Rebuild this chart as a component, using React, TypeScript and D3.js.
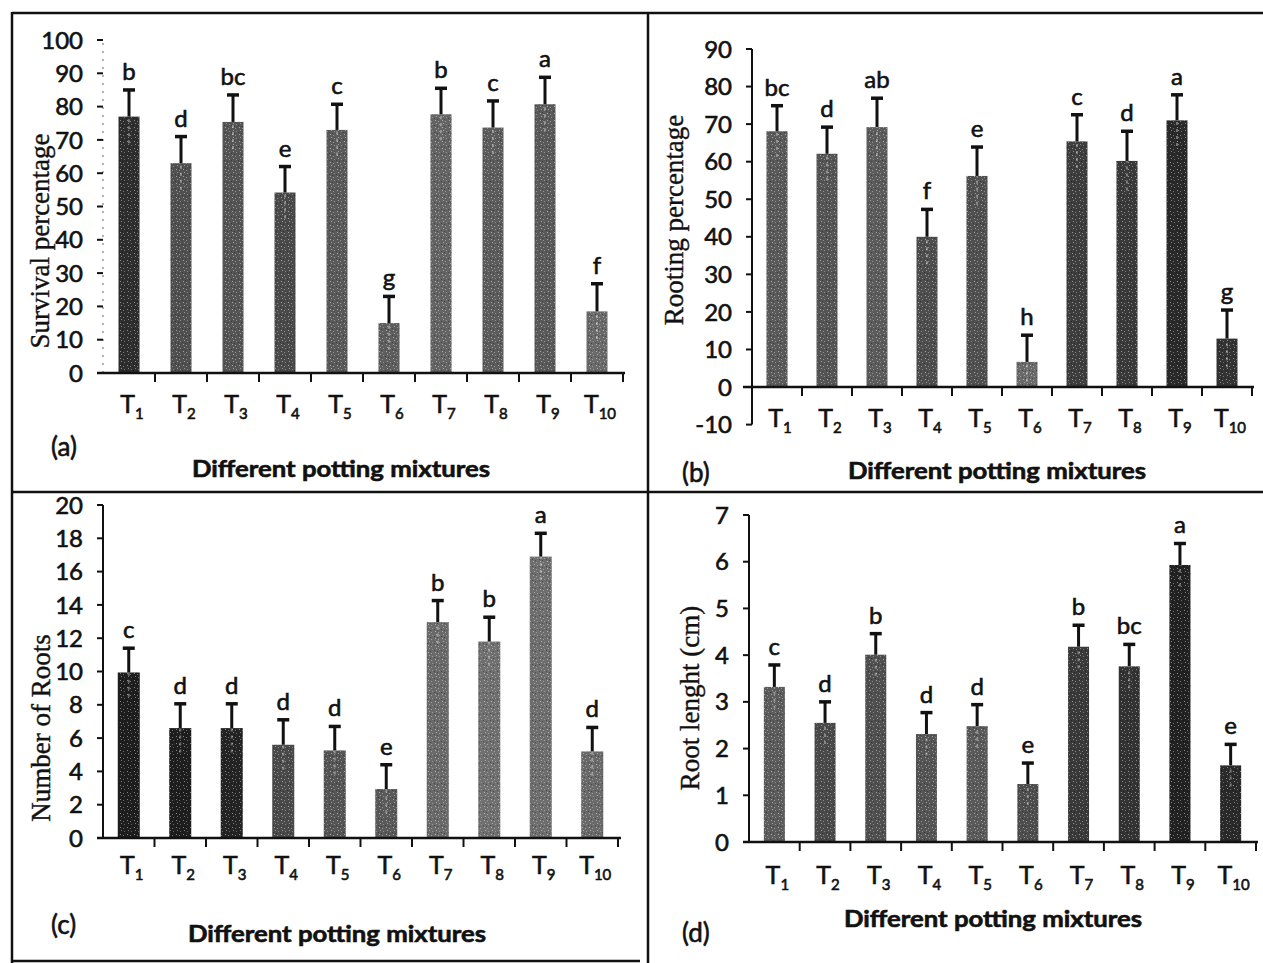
import React from 'react';
import * as d3 from 'd3';

const treatments = ['1', '2', '3', '4', '5', '6', '7', '8', '9', '10'];

const survivalMean = [77, 63, 75.4, 54.2, 73, 15, 77.7, 73.7, 80.7, 18.5];
const survivalErr = [8, 8, 8.1, 7.8, 7.7, 8, 7.8, 8, 8.1, 8.3];
const survivalLetters = ['b', 'd', 'bc', 'e', 'c', 'g', 'b', 'c', 'a', 'f'];

const rootingMean = [68.1, 62.1, 69.2, 40.0, 56.2, 6.7, 65.4, 60.2, 71.0, 12.9];
const rootingErr = [6.8, 7.1, 7.7, 7.3, 7.7, 7.1, 7.1, 7.9, 6.8, 7.6];
const rootingLetters = ['bc', 'd', 'ab', 'f', 'e', 'h', 'c', 'd', 'a', 'g'];

const rootsMean = [9.94, 6.6, 6.6, 5.6, 5.26, 2.94, 12.96, 11.8, 16.9, 5.2];
const rootsErr = [1.46, 1.46, 1.46, 1.5, 1.44, 1.46, 1.3, 1.46, 1.4, 1.44];
const rootsLetters = ['c', 'd', 'd', 'd', 'd', 'e', 'b', 'b', 'a', 'd'];

const lengthMean = [3.32, 2.55, 4.01, 2.31, 2.48, 1.24, 4.18, 3.76, 5.93, 1.64];
const lengthErr = [0.47, 0.45, 0.45, 0.46, 0.46, 0.45, 0.46, 0.47, 0.46, 0.45];
const lengthLetters = ['c', 'd', 'b', 'd', 'd', 'e', 'b', 'bc', 'a', 'e'];

const survivalTicks = [0, 10, 20, 30, 40, 50, 60, 70, 80, 90, 100];
const rootingTicks = [-10, 0, 10, 20, 30, 40, 50, 60, 70, 80, 90];
const rootsTicks = [0, 2, 4, 6, 8, 10, 12, 14, 16, 18, 20];
const lengthTicks = [0, 1, 2, 3, 4, 5, 6, 7];

const xTitle = 'Different potting mixtures';

const SANS = 'Lato, "Open Sans", sans-serif';
const SERIF = '"Liberation Serif", "Times New Roman", serif';

type PanelCfg = {
  id: string;
  label: string;
  mean: number[];
  err: number[];
  letters: string[];
  ticks: number[];
  yTitle: string;
  xRange: [number, number];
  yDomain: [number, number];
  yRange: [number, number];
  axisLineX: [number, number];
  barW: number;
  tLabelY: number;
  titleX: number;
  titleY: number;
  yTitleX: number;
  yTitleY: number;
  labelX: number;
  labelY: number;
  yAxisFaint: boolean;
  shades: string[];
};

const panels: PanelCfg[] = [
  {
    id: 'a', label: '(a)', mean: survivalMean, err: survivalErr, letters: survivalLetters,
    ticks: survivalTicks, yTitle: 'Survival percentage',
    xRange: [103, 623], yDomain: [0, 100], yRange: [373, 40], axisLineX: [97, 625],
    barW: 21, tLabelY: 413, titleX: 341, titleY: 477, yTitleX: 40, yTitleY: 241,
    labelX: 51, labelY: 456, yAxisFaint: true,
    shades: ['#2e2e2e', '#505050', '#555', '#4a4a4a', '#5a5a5a', '#5e5e5e', '#646464', '#5c5c5c', '#5a5a5a', '#6a6a6a'],
  },
  {
    id: 'b', label: '(b)', mean: rootingMean, err: rootingErr, letters: rootingLetters,
    ticks: rootingTicks, yTitle: 'Rooting percentage',
    xRange: [752, 1252], yDomain: [-10, 90], yRange: [424.6, 49], axisLineX: [743, 1254],
    barW: 21, tLabelY: 427, titleX: 997, titleY: 479, yTitleX: 674, yTitleY: 220,
    labelX: 682, labelY: 482, yAxisFaint: false,
    shades: ['#5a5a5a', '#555', '#5c5c5c', '#4e4e4e', '#505050', '#6a6a6a', '#3e3e3e', '#3a3a3a', '#2a2a2a', '#333'],
  },
  {
    id: 'c', label: '(c)', mean: rootsMean, err: rootsErr, letters: rootsLetters,
    ticks: rootsTicks, yTitle: 'Number of Roots',
    xRange: [103, 618], yDomain: [0, 20], yRange: [838, 505], axisLineX: [97, 621],
    barW: 22, tLabelY: 874, titleX: 337, titleY: 942, yTitleX: 41, yTitleY: 728,
    labelX: 51, labelY: 934, yAxisFaint: false,
    shades: ['#1e1e1e', '#1e1e1e', '#242424', '#4a4a4a', '#555', '#5a5a5a', '#6a6a6a', '#707070', '#6e6e6e', '#6a6a6a'],
  },
  {
    id: 'd', label: '(d)', mean: lengthMean, err: lengthErr, letters: lengthLetters,
    ticks: lengthTicks, yTitle: 'Root lenght (cm)',
    xRange: [749, 1256], yDomain: [0, 7], yRange: [842, 515], axisLineX: [743, 1258],
    barW: 21, tLabelY: 884, titleX: 993, titleY: 927, yTitleX: 690, yTitleY: 698,
    labelX: 682, labelY: 942, yAxisFaint: false,
    shades: ['#5c5c5c', '#4a4a4a', '#505050', '#555', '#5a5a5a', '#4e4e4e', '#3a3a3a', '#333', '#222', '#2a2a2a'],
  },
];

const heavy = { stroke: '#111', strokeWidth: 0.6, paintOrder: 'stroke' } as const;

function Panel({ p }: { p: PanelCfg }) {
  const x = d3.scaleBand<string>().domain(treatments).range(p.xRange).paddingInner(0).paddingOuter(0);
  const y = d3.scaleLinear().domain(p.yDomain).range(p.yRange);
  const y0 = y(0);
  const axisX = p.xRange[0];
  const bw = x.bandwidth();
  const boundaries = treatments.map((t) => (x(t) as number) + bw);
  const capW = 12;

  return (
    <g>
      {treatments.map((t, i) => {
        const cx = (x(t) as number) + bw / 2;
        const top = y(p.mean[i]);
        return (
          <g key={t}>
            <rect x={cx - p.barW / 2} y={top} width={p.barW} height={y0 - top} fill={p.shades[i]} />
            <rect x={cx - p.barW / 2} y={top} width={p.barW} height={y0 - top} fill="url(#speckle)" />
          </g>
        );
      })}
      {treatments.map((t, i) => {
        const cx = (x(t) as number) + bw / 2;
        const top = y(p.mean[i]);
        const et = y(p.mean[i] + p.err[i]);
        const eb = y(p.mean[i] - p.err[i]);
        return (
          <g key={'e' + t}>
            <line x1={cx} x2={cx} y1={eb} y2={top} stroke="#fff" strokeOpacity={0.35} strokeWidth={2} strokeDasharray="3 4" />
            <line x1={cx} x2={cx} y1={top} y2={et} stroke="#111" strokeWidth={3} />
            <line x1={cx - capW / 2} x2={cx + capW / 2} y1={et} y2={et} stroke="#111" strokeWidth={3.5} />
            <text x={cx} y={et - 10} textAnchor="middle" fontFamily={SANS} fontSize={24} fill="#111" {...heavy}>
              {p.letters[i]}
            </text>
          </g>
        );
      })}
      <line
        x1={axisX} x2={axisX} y1={y(p.yDomain[0])} y2={y(p.yDomain[1])}
        stroke={p.yAxisFaint ? '#999' : '#111'}
        strokeWidth={p.yAxisFaint ? 1.5 : 2}
        strokeDasharray={p.yAxisFaint ? '2 6' : undefined}
      />
      {p.ticks.map((v) => (
        <g key={'yt' + v}>
          <line x1={axisX - 6} x2={axisX} y1={y(v)} y2={y(v)} stroke="#111" strokeWidth={2} />
          <text x={axisX - 20} y={y(v)} dy="0.36em" textAnchor="end" fontFamily={SANS} fontSize={24} fill="#111" {...heavy}>
            {v}
          </text>
        </g>
      ))}
      <line x1={p.axisLineX[0]} x2={p.axisLineX[1]} y1={y0} y2={y0} stroke="#111" strokeWidth={2.5} />
      {boundaries.map((b, i) => (
        <line key={'xt' + i} x1={b} x2={b} y1={y0} y2={y0 + 9} stroke="#111" strokeWidth={2} />
      ))}
      {treatments.map((t) => (
        <text
          key={'tl' + t}
          x={(x(t) as number) + bw / 2 + 3}
          y={p.tLabelY}
          textAnchor="middle"
          fontFamily={SANS}
          fontSize={25}
          fill="#111"
          {...heavy}
        >
          T<tspan fontSize={15} dy={6}>{t}</tspan>
        </text>
      ))}
      <text
        x={p.titleX} y={p.titleY} textAnchor="middle" fontFamily={SANS} fontWeight="bold"
        fontSize={22} fill="#111" textLength={298} lengthAdjust="spacingAndGlyphs" {...heavy}
      >
        {xTitle}
      </text>
      <text
        transform={`translate(${p.yTitleX},${p.yTitleY}) rotate(-90)`}
        textAnchor="middle" dy="0.35em" fontFamily={SERIF} fontSize={27} fill="#111"
        stroke="#111" strokeWidth={0.4}
      >
        {p.yTitle}
      </text>
      <text x={p.labelX} y={p.labelY} fontFamily={SANS} fontSize={26} fill="#111" {...heavy}>
        {p.label}
      </text>
    </g>
  );
}

export default function App() {
  return (
    <svg
      width={1263}
      height={963}
      viewBox="0 0 1263 963"
      style={{ position: 'absolute', left: 0, top: 0, background: '#fff' }}
    >
      <defs>
        <pattern id="speckle" width="7" height="7" patternUnits="userSpaceOnUse">
          <rect x="1" y="1" width="1" height="1" fill="#fff" fillOpacity="0.45" />
          <rect x="4" y="2" width="1" height="1" fill="#fff" fillOpacity="0.35" />
          <rect x="2" y="4" width="1" height="1" fill="#fff" fillOpacity="0.4" />
          <rect x="5" y="5" width="1" height="1" fill="#fff" fillOpacity="0.3" />
          <rect x="0" y="6" width="1" height="1" fill="#000" fillOpacity="0.3" />
          <rect x="3" y="0" width="1" height="1" fill="#000" fillOpacity="0.3" />
        </pattern>
      </defs>
      <rect x={0} y={0} width={1263} height={963} fill="#fff" />
      <g stroke="#111" strokeWidth={2.5}>
        <line x1={12} x2={1263} y1={13} y2={13} />
        <line x1={12} x2={12} y1={12} y2={963} />
        <line x1={648} x2={648} y1={12} y2={963} />
        <line x1={12} x2={1263} y1={492} y2={492} />
        <line x1={12} x2={640} y1={961} y2={961} />
      </g>
      {panels.map((p) => (
        <Panel key={p.id} p={p} />
      ))}
    </svg>
  );
}
